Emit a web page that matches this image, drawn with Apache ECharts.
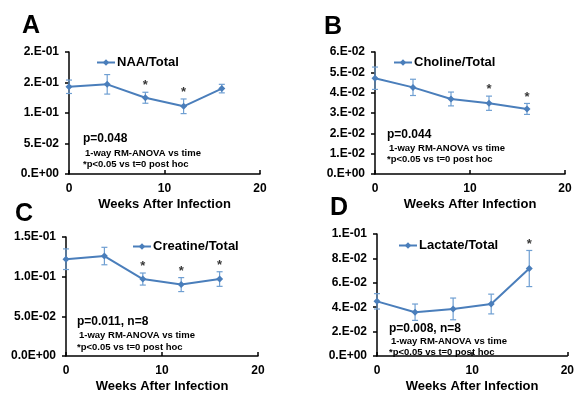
<!DOCTYPE html>
<html>
<head>
<meta charset="utf-8">
<script src="https://cdn.jsdelivr.net/npm/echarts@6/dist/echarts.min.js"></script>
<style>
html,body{margin:0;padding:0;background:#fff;}
#chart{width:577px;height:394px;}
</style>
</head>
<body>
<div id="chart"></div>
<script>
// ---- data ----
const weeks = [0, 4, 8, 12, 16];
const xTicks = [0, 10, 20];

const naaName = 'NAA/Total';
const naaVals = [0.143, 0.147, 0.125, 0.111, 0.140];
const naaErr  = [0.011, 0.016, 0.009, 0.012, 0.007];
const naaSig  = [8, 12];

const choName = 'Choline/Total';
const choVals = [0.0471, 0.0426, 0.0369, 0.0348, 0.0320];
const choErr  = [0.0055, 0.0040, 0.0034, 0.0035, 0.0027];
const choSig  = [12, 16];

const creName = 'Creatine/Total';
const creVals = [0.122, 0.126, 0.097, 0.090, 0.097];
const creErr  = [0.013, 0.011, 0.0076, 0.0088, 0.0092];
const creSig  = [8, 12, 16];

const lacName = 'Lactate/Total';
const lacVals = [0.0448, 0.0359, 0.0386, 0.0426, 0.0717];
const lacErr  = [0.0063, 0.0067, 0.0089, 0.0081, 0.0148];
const lacSig  = [16];

const yMax = [0.2, 0.06, 0.15, 0.1];
const yInterval = [0.05, 0.01, 0.05, 0.02];
const yDecimals = [0, 0, 1, 0];

const panelLetters = ['A', 'B', 'C', 'D'];
const pTexts = ['p=0.048', 'p=0.044', 'p=0.011, n=8', 'p=0.008, n=8'];
const anovaText = '1-way RM-ANOVA vs time';
const postHocText = '*p<0.05 vs t=0 post hoc';
const xTitle = 'Weeks After Infection';

// ---- styling/layout ----
const FONT = '"Liberation Sans", Arial, sans-serif';
const LINE = '#4A7EBB';
const ERR = '#6F9FD2';

const grids = [
  {left: 69, top: 52, width: 191, height: 122},
  {left: 375, top: 52, width: 190, height: 122},
  {left: 66, top: 237, width: 192, height: 123},
  {left: 377, top: 234, width: 191, height: 124}
];

function sci(v, dec) {
  if (Math.abs(v) < 1e-12) return (dec ? '0.' + '0'.repeat(dec) : '0.') + 'E+00';
  let e = Math.floor(Math.log10(Math.abs(v)) + 1e-9);
  let m = parseFloat((v / Math.pow(10, e)).toPrecision(10));
  let ms = m.toFixed(dec);
  if (parseFloat(ms) >= 10) { e += 1; m = parseFloat((v / Math.pow(10, e)).toPrecision(10)); ms = m.toFixed(dec); }
  const mm = dec === 0 ? ms + '.' : ms;
  return mm + 'E' + (e < 0 ? '-' : '+') + String(Math.abs(e)).padStart(2, '0');
}

const panels = [
  {name: naaName, vals: naaVals, err: naaErr, sig: naaSig},
  {name: choName, vals: choVals, err: choErr, sig: choSig},
  {name: creName, vals: creVals, err: creErr, sig: creSig},
  {name: lacName, vals: lacVals, err: lacErr, sig: lacSig}
];

const legendPos = [
  {left: 96, top: 56},
  {left: 393, top: 56},
  {left: 132, top: 240},
  {left: 398, top: 239}
];
const letterPos = [[22, 26], [324, 27], [15, 214], [330, 208]];
const annoPos = [
  [83, 139, 85, 153, 83, 164],
  [387, 135, 389, 148, 387, 159],
  [77, 322, 79, 335, 77, 347],
  [389, 329, 391, 341, 389, 352]
];

const option = {
  animation: false,
  backgroundColor: '#fff',
  grid: grids.map(g => Object.assign({containLabel: false}, g)),
  legend: panels.map((p, i) => ({
    data: [p.name],
    left: legendPos[i].left, top: legendPos[i].top,
    padding: 0,
    itemWidth: 18, itemHeight: 8,
    textStyle: {fontFamily: FONT, fontSize: 13, fontWeight: 'bold', color: '#000', padding: [0, 0, 0, -3]}
  })),
  xAxis: panels.map((p, i) => ({
    gridIndex: i, type: 'value', min: xTicks[0], max: xTicks[xTicks.length - 1], interval: xTicks[1] - xTicks[0],
    name: xTitle, nameLocation: 'middle', nameGap: 24,
    nameTextStyle: {fontFamily: FONT, fontSize: 13, fontWeight: 'bold', color: '#000'},
    axisLine: {lineStyle: {color: '#000', width: 1.5}},
    axisTick: {inside: true, length: 4, lineStyle: {color: '#000', width: 1.5}},
    axisLabel: {fontFamily: FONT, fontSize: 12, fontWeight: 'bold', color: '#000', margin: 9},
    splitLine: {show: false}
  })),
  yAxis: panels.map((p, i) => ({
    gridIndex: i, type: 'value', min: 0, max: yMax[i], interval: yInterval[i],
    axisLine: {show: true, lineStyle: {color: '#000', width: 1.5}},
    axisTick: {show: true, length: 4, lineStyle: {color: '#000', width: 1.5}},
    axisLabel: {fontFamily: FONT, fontSize: 12, fontWeight: 'bold', color: '#000', margin: 10,
      formatter: v => sci(v, yDecimals[i])},
    splitLine: {show: false}
  })),
  series: [],
  graphic: []
};

panels.forEach((p, i) => {
  const errData = weeks.map((w, k) => [w, p.vals[k] - p.err[k], p.vals[k] + p.err[k]]);
  option.series.push({
    type: 'custom', xAxisIndex: i, yAxisIndex: i, z: 1,
    data: errData,
    renderItem: (params, api) => {
      const x = api.value(0);
      const lo = api.coord([x, api.value(1)]);
      const hi = api.coord([x, api.value(2)]);
      const c = 3;
      const st = {stroke: ERR, lineWidth: 1.2};
      return {type: 'group', children: [
        {type: 'line', shape: {x1: lo[0], y1: lo[1], x2: hi[0], y2: hi[1]}, style: st},
        {type: 'line', shape: {x1: hi[0] - c, y1: hi[1], x2: hi[0] + c, y2: hi[1]}, style: st},
        {type: 'line', shape: {x1: lo[0] - c, y1: lo[1], x2: lo[0] + c, y2: lo[1]}, style: st}
      ]};
    }
  });
  option.series.push({
    name: p.name, type: 'line', xAxisIndex: i, yAxisIndex: i, z: 3,
    data: weeks.map((w, k) => [w, p.vals[k]]),
    symbol: 'diamond', symbolSize: 7, showSymbol: true,
    itemStyle: {color: LINE},
    lineStyle: {color: LINE, width: 2}
  });
  option.series.push({
    type: 'scatter', xAxisIndex: i, yAxisIndex: i, z: 4, silent: true,
    symbolSize: 0,
    data: p.sig.map(w => { const k = weeks.indexOf(w); return [w, p.vals[k] + p.err[k]]; }),
    label: {show: true, position: 'top', distance: 0, formatter: '*',
      fontFamily: FONT, fontSize: 13, fontWeight: 'bold', color: '#000'}
  });

  option.graphic.push({type: 'text', x: letterPos[i][0], y: letterPos[i][1],
    style: {text: panelLetters[i], font: 'bold 25px ' + FONT, fill: '#000', verticalAlign: 'middle'}});
  const a = annoPos[i];
  option.graphic.push({type: 'text', x: a[0], y: a[1],
    style: {text: pTexts[i], font: 'bold 12px ' + FONT, fill: '#000', verticalAlign: 'middle'}});
  option.graphic.push({type: 'text', x: a[2], y: a[3],
    style: {text: anovaText, font: 'bold 9.5px ' + FONT, fill: '#000', verticalAlign: 'middle'}});
  option.graphic.push({type: 'text', x: a[4], y: a[5],
    style: {text: postHocText, font: 'bold 9.5px ' + FONT, fill: '#000', verticalAlign: 'middle'}});
});

const chart = echarts.init(document.getElementById('chart'), null, {renderer: 'canvas'});
chart.setOption(option);
</script>
</body>
</html>
